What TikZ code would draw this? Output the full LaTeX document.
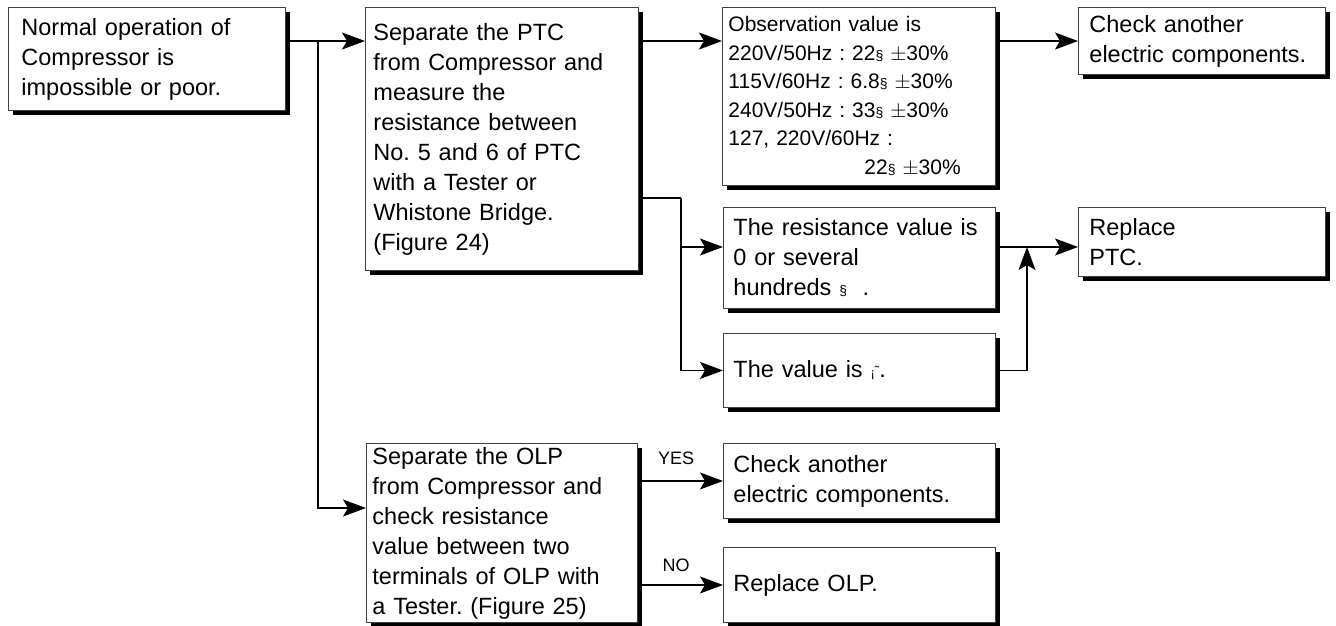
\documentclass[tikz,border=0pt]{standalone}
\usepackage{fontspec}
\setmainfont{Liberation Sans}
\usetikzlibrary{arrows.meta,shadows,positioning}
\newcommand{\ohm}{{\fontsize{14}{14}\selectfont\S}}
\frenchspacing
\tikzset{
  box/.style={draw=black!75, line width=0.9pt, fill=white, anchor=north west,
    align=left, inner xsep=8pt, inner ysep=0pt,
    font=\fontsize{23.5}{30}\selectfont,
    drop shadow={shadow xshift=4.5pt, shadow yshift=-4.5pt, fill=black, opacity=1}},
  flow/.style={line width=1.2pt, -{Stealth[length=23pt, width=17pt, inset=5pt]}},
  link/.style={line width=1.2pt},
  answer/.style={font=\fontsize{18}{18}\selectfont, inner sep=0pt},
}
\begin{document}
\begin{tikzpicture}[x=1pt, y=-1pt]
  \useasboundingbox (0,0) rectangle (1336,625);

  % boxes
  \node[box, inner xsep=13pt, text width=251pt, minimum height=103pt] (start) at (8,7)
    {Normal operation of\\Compressor is\\impossible or poor.};
  \node[box, text width=257pt, minimum height=263pt] (ptc) at (365,7)
    {Separate the PTC\\from Compressor and\\measure the\\resistance between\\No. 5 and 6 of PTC\\with a Tester or\\Whistone Bridge.\\(Figure 24)};
  \node[box, inner xsep=6pt, text width=261pt, minimum height=178pt, font=\fontsize{21}{28.5}\selectfont] (obs) at (722,7)
    {Observation value is\\220V/50Hz : 22\ohm\ $\pm$30\%\\115V/60Hz : 6.8\ohm\ $\pm$30\%\\240V/50Hz : 33\ohm\ $\pm$30\%\\127, 220V/60Hz :\\\hspace*{136pt}22\ohm\ $\pm$30\%};
  \node[box, inner xsep=11pt, text width=225pt, minimum height=67pt] (other1) at (1078,7)
    {Check another\\electric components.};
  \node[box, inner xsep=10pt, text width=252pt, minimum height=101pt] (zero) at (723,207)
    {The resistance value is\\0 or several\\hundreds \ohm\ \ .};
  \node[box, inner xsep=10pt, text width=252pt, minimum height=74pt] (inf) at (723,333)
    {The value is {\fontsize{13}{13}\selectfont ¡\raisebox{2pt}{˜}}.};
  \node[box, inner xsep=11pt, text width=225pt, minimum height=69pt] (newptc) at (1078,207)
    {Replace\\PTC.};
  \node[box, inner xsep=6pt, text width=259pt, minimum height=179pt] (olp) at (366,443)
    {Separate the OLP\\from Compressor and\\check resistance\\value between two\\terminals of OLP with\\a Tester. (Figure 25)};
  \node[box, inner xsep=10pt, text width=252pt, minimum height=75pt] (other2) at (723,443)
    {Check another\\electric components.};
  \node[box, inner xsep=10pt, text width=252pt, minimum height=75pt] (newolp) at (723,547)
    {Replace OLP.};

  % connectors
  \coordinate (r1) at (0,41);
  \coordinate (j1) at (318,41);
  \coordinate (r5) at (0,508);
  \coordinate (j2) at (681,198);
  \coordinate (r3) at (0,247);
  \coordinate (j3) at (1027,247);
  \draw[flow] (start.east |- r1) -- (ptc.west |- r1);
  \draw[flow] (j1) |- (olp.west |- r5);
  \draw[flow] (ptc.east |- r1) -- (obs.west |- r1);
  \draw[flow] (obs.east |- r1) -- (other1.west |- r1);
  \draw[link] (ptc.east |- j2) -- (j2);
  \draw[flow] (j2) |- (zero.west |- r3);
  \draw[flow] (j2) |- (inf.west);
  \draw[flow] (zero.east |- r3) -- (newptc.west |- r3);
  \draw[flow] (inf.east) -| (j3);
  \draw[flow] (olp.east |- other2.west) -- (other2.west)
    node[answer, pos=0.45, above=16pt] (yes) {YES};
  \draw[flow] (olp.east |- newolp.west) -- (newolp.west)
    node[answer, pos=0.45, above=13pt] (no) {NO};
\end{tikzpicture}
\end{document}
